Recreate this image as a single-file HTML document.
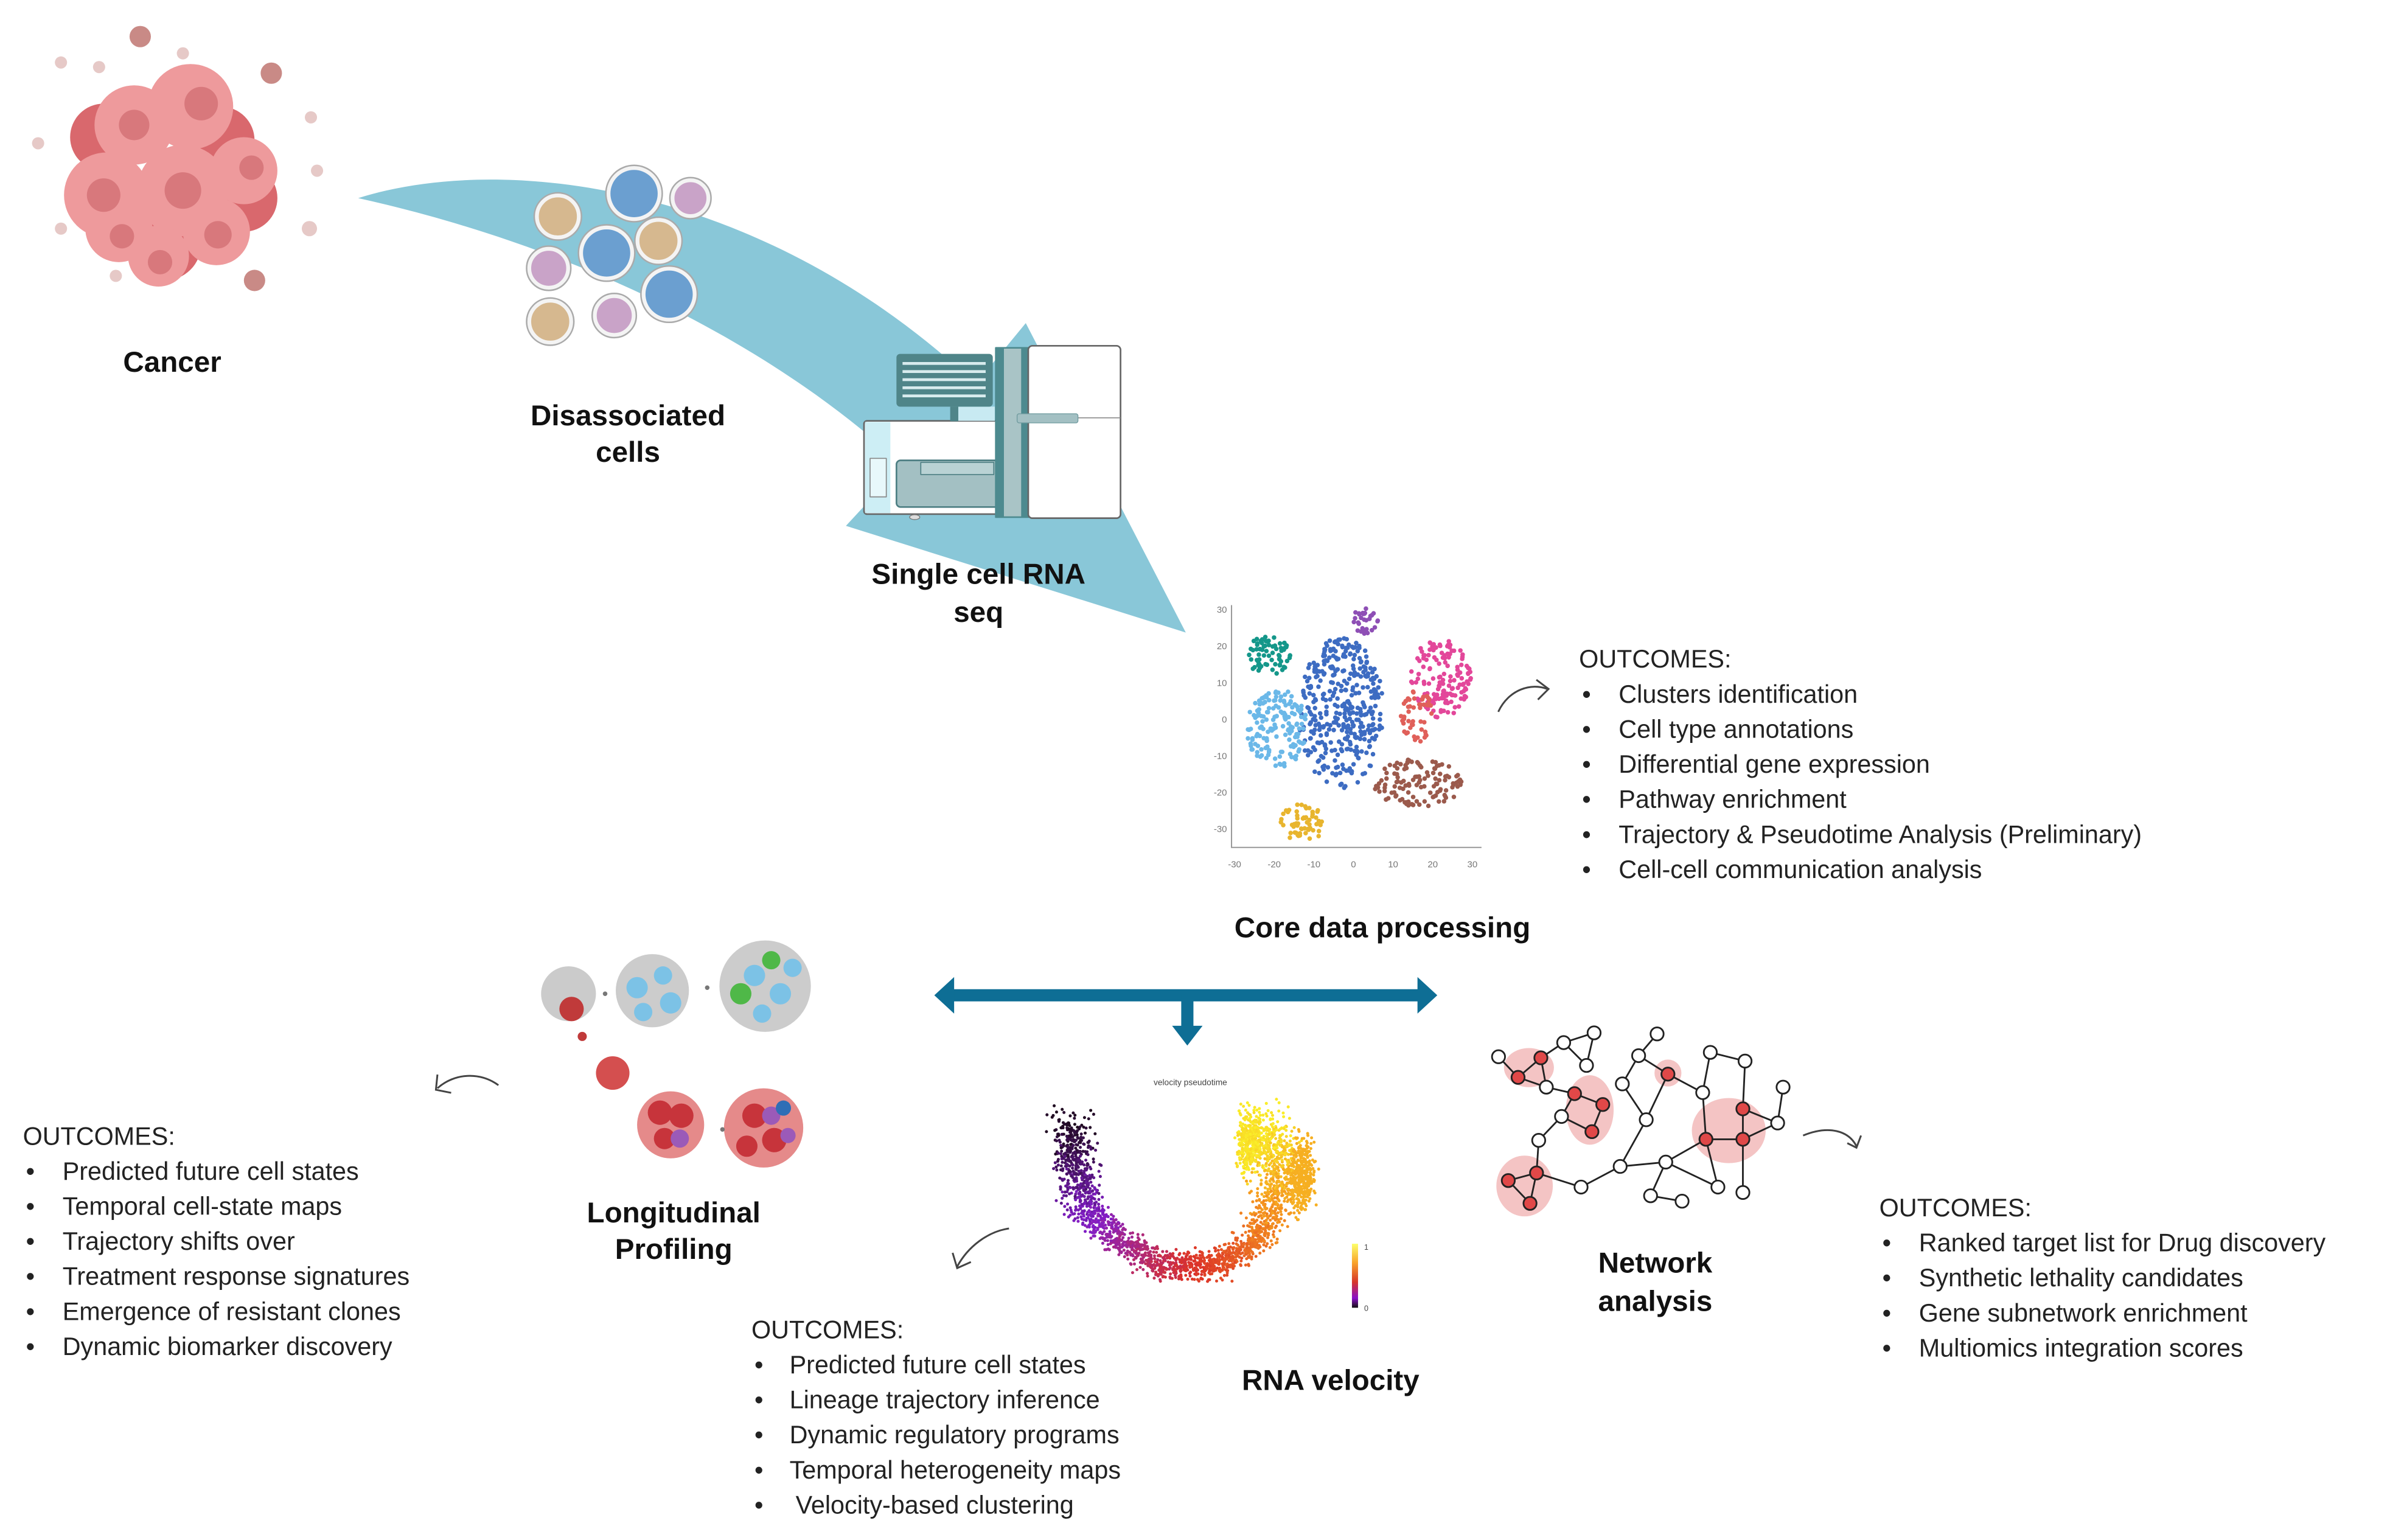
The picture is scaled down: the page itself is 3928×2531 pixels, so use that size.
<!DOCTYPE html>
<html><head><meta charset="utf-8"><style>
html,body{margin:0;padding:0;background:#fff;}
svg{display:block;}
.t{font-family:"Liberation Sans",sans-serif;fill:#1a1a1a;}
.o{font-size:16.5px;fill:#222;}
.b{font-size:19px;font-weight:bold;text-anchor:middle;fill:#111;}
</style></head><body>
<svg id="s" xmlns="http://www.w3.org/2000/svg" width="3928" height="2531" viewBox="0 0 3928 2531">
<rect width="3928" height="2531" fill="#fff"/>
<g transform="scale(2.505)">
 <path d="M235,130 C330,100 500,120 640,252 L673,212 L778,415 L555,345 L592,305 C500,220 370,160 235,130 Z" fill="#89c7d8"/>
 <g id="cancer">
  <g fill="#c98a86"><circle cx="92" cy="24" r="7"/><circle cx="178" cy="48" r="7"/><circle cx="167" cy="184" r="7"/></g>
  <g fill="#e6c9c7"><circle cx="40" cy="41" r="4"/><circle cx="65" cy="44" r="4"/><circle cx="120" cy="35" r="4"/><circle cx="25" cy="94" r="4"/><circle cx="204" cy="77" r="4"/><circle cx="208" cy="112" r="4"/><circle cx="40" cy="150" r="4"/><circle cx="203" cy="150" r="5"/><circle cx="76" cy="181" r="4"/></g>
  <g fill="#d9686d"><circle cx="68" cy="90" r="22"/><circle cx="160" cy="130" r="22"/><circle cx="108" cy="160" r="24"/><circle cx="145" cy="92" r="22"/></g>
  <g fill="#ee9a9c"><circle cx="88" cy="82" r="26"/><circle cx="125" cy="70" r="28"/><circle cx="70" cy="128" r="28"/><circle cx="120" cy="125" r="30"/><circle cx="160" cy="112" r="22"/><circle cx="78" cy="150" r="22"/><circle cx="142" cy="152" r="22"/><circle cx="104" cy="168" r="20"/></g>
  <g fill="#d8787c"><circle cx="88" cy="82" r="10"/><circle cx="132" cy="68" r="11"/><circle cx="68" cy="128" r="11"/><circle cx="120" cy="125" r="12"/><circle cx="165" cy="110" r="8"/><circle cx="80" cy="155" r="8"/><circle cx="143" cy="154" r="9"/><circle cx="105" cy="172" r="8"/></g>
 </g>
 <g stroke="#f4f4f4" stroke-width="3">
  <circle cx="366" cy="142" r="14" fill="#d6b88f"/><circle cx="416" cy="127" r="17" fill="#6b9fd0"/><circle cx="453" cy="130" r="12" fill="#c9a3c8"/>
  <circle cx="432" cy="158" r="14" fill="#d6b88f"/><circle cx="398" cy="166" r="17" fill="#6b9fd0"/><circle cx="360" cy="176" r="13" fill="#c9a3c8"/>
  <circle cx="439" cy="193" r="17" fill="#6b9fd0"/><circle cx="361" cy="211" r="14" fill="#d6b88f"/><circle cx="403" cy="207" r="13" fill="#c9a3c8"/>
 </g>
 <g fill="none" stroke="#aaa" stroke-width="1">
  <circle cx="366" cy="142" r="15.5"/><circle cx="416" cy="127" r="18.5"/><circle cx="453" cy="130" r="13.5"/>
  <circle cx="432" cy="158" r="15.5"/><circle cx="398" cy="166" r="18.5"/><circle cx="360" cy="176" r="14.5"/>
  <circle cx="439" cy="193" r="18.5"/><circle cx="361" cy="211" r="15.5"/><circle cx="403" cy="207" r="14.5"/>
 </g>
 <path d="M808,397 V556 H972" stroke="#999" stroke-width="0.8" fill="none"/>
 <g font-family="Liberation Sans" font-size="6" fill="#777" text-anchor="end">
  <text x="805" y="402">30</text><text x="805" y="426">20</text><text x="805" y="450">10</text><text x="805" y="474">0</text><text x="805" y="498">-10</text><text x="805" y="522">-20</text><text x="805" y="546">-30</text>
 </g>
 <g font-family="Liberation Sans" font-size="6" fill="#777" text-anchor="middle">
  <text x="810" y="569">-30</text><text x="836" y="569">-20</text><text x="862" y="569">-10</text><text x="888" y="569">0</text><text x="914" y="569">10</text><text x="940" y="569">20</text><text x="966" y="569">30</text>
 </g>
 <g id="tsne"></g>
 <g fill="none" stroke="#444" stroke-width="1.2">
  <path d="M983,467 C990,452 1005,448 1015,452"/><path d="M1008,446 L1016,452 L1009,459"/>
  <path d="M327,712 C315,703 298,704 287,714"/><path d="M287,705 L286,715 L296,717"/>
  <path d="M662,806 C648,808 635,818 628,831"/><path d="M625,822 L628,832 L637,828"/>
  <path d="M1183,745 C1200,738 1213,742 1218,752"/><path d="M1212,750 L1218,753 L1221,745"/>
 </g>
 <g fill="#0e6e95">
  <rect x="620" y="649" width="316" height="8"/>
  <path d="M613,653 L626,641 L626,665 Z"/><path d="M943,653 L930,641 L930,665 Z"/>
  <rect x="775" y="653" width="8" height="22"/><path d="M779,686 L769,673 L789,673 Z"/>
 </g>
 <g id="longi">
  <g fill="#c6c6c6" opacity="0.9">
   <circle cx="373" cy="652" r="18"/><circle cx="428" cy="650" r="24"/><circle cx="502" cy="647" r="30"/>
  </g>
  <g fill="#7cc2e6"><circle cx="418" cy="648" r="7"/><circle cx="435" cy="640" r="6"/><circle cx="440" cy="658" r="7"/><circle cx="422" cy="664" r="6"/>
   <circle cx="495" cy="640" r="7"/><circle cx="512" cy="652" r="7"/><circle cx="500" cy="665" r="6"/><circle cx="520" cy="635" r="6"/></g>
  <g fill="#4fb848"><circle cx="486" cy="652" r="7"/><circle cx="506" cy="630" r="6"/></g>
  <circle cx="375" cy="662" r="8" fill="#c03a3a"/><circle cx="382" cy="680" r="3" fill="#c03a3a"/>
  <circle cx="402" cy="704" r="11" fill="#d44f4f"/>
  <g fill="#e58a8a"><circle cx="440" cy="738" r="22"/><circle cx="501" cy="740" r="26"/></g>
  <g fill="#c7343b"><circle cx="433" cy="730" r="8"/><circle cx="447" cy="732" r="8"/><circle cx="436" cy="747" r="7"/><circle cx="495" cy="732" r="8"/><circle cx="508" cy="748" r="8"/><circle cx="490" cy="752" r="7"/></g>
  <g fill="#9b5ab8"><circle cx="446" cy="747" r="6"/><circle cx="506" cy="732" r="6"/><circle cx="517" cy="745" r="5"/></g>
  <circle cx="514" cy="727" r="5" fill="#2f6eb6"/>
  <g fill="#777"><circle cx="397" cy="652" r="1.5"/><circle cx="464" cy="648" r="1.5"/><circle cx="474" cy="741" r="1.5"/></g>
 </g>
 <text x="781" y="712" font-family="Liberation Sans" font-size="5.5" fill="#444" text-anchor="middle">velocity pseudotime</text>
 <g id="vel"></g>
 <defs><linearGradient id="cb" x1="0" y1="0" x2="0" y2="1"><stop offset="0" stop-color="#fcff6a"/><stop offset="0.3" stop-color="#f9a22a"/><stop offset="0.6" stop-color="#d6352a"/><stop offset="0.85" stop-color="#8a10c8"/><stop offset="1" stop-color="#111"/></linearGradient></defs>
 <rect x="887" y="816" width="4" height="42" fill="url(#cb)"/>
 <text x="895" y="820" font-family="Liberation Sans" font-size="5" fill="#444">1</text>
 <text x="895" y="860" font-family="Liberation Sans" font-size="5" fill="#444">0</text>
 <text class="t b" x="113" y="244">Cancer</text>
 <text class="t b" x="412" y="279">Disassociated</text>
 <text class="t b" x="412" y="303">cells</text>
 <text class="t b" x="642" y="383">Single cell  RNA</text>
 <text class="t b" x="642" y="408">seq</text>
 <text class="t b" x="907" y="615">Core data processing</text>
 <text class="t b" x="442" y="802">Longitudinal</text>
 <text class="t b" x="442" y="826">Profiling</text>
 <text class="t b" x="873" y="912">RNA velocity</text>
 <text class="t b" x="1086" y="835">Network</text>
 <text class="t b" x="1086" y="860">analysis</text>
 <g class="t o">
  <text x="1036" y="438">OUTCOMES:</text>
  <text x="1038" y="461">•</text><text x="1062" y="461">Clusters identification</text>
  <text x="1038" y="484">•</text><text x="1062" y="484">Cell type annotations</text>
  <text x="1038" y="507">•</text><text x="1062" y="507">Differential gene expression</text>
  <text x="1038" y="530">•</text><text x="1062" y="530">Pathway enrichment</text>
  <text x="1038" y="553">•</text><text x="1062" y="553">Trajectory &amp; Pseudotime Analysis (Preliminary)</text>
  <text x="1038" y="576">•</text><text x="1062" y="576">Cell-cell communication analysis</text>

  <text x="15" y="751">OUTCOMES:</text>
  <text x="17" y="774">•</text><text x="41" y="774">Predicted future cell states</text>
  <text x="17" y="797">•</text><text x="41" y="797">Temporal cell-state maps</text>
  <text x="17" y="820">•</text><text x="41" y="820">Trajectory shifts over</text>
  <text x="17" y="843">•</text><text x="41" y="843">Treatment response signatures</text>
  <text x="17" y="866">•</text><text x="41" y="866">Emergence of resistant clones</text>
  <text x="17" y="889">•</text><text x="41" y="889">Dynamic biomarker discovery</text>

  <text x="493" y="878">OUTCOMES:</text>
  <text x="495" y="901">•</text><text x="518" y="901">Predicted future cell states</text>
  <text x="495" y="924">•</text><text x="518" y="924">Lineage trajectory inference</text>
  <text x="495" y="947">•</text><text x="518" y="947">Dynamic regulatory programs</text>
  <text x="495" y="970">•</text><text x="518" y="970">Temporal heterogeneity maps</text>
  <text x="495" y="993">•</text><text x="522" y="993">Velocity-based clustering</text>

  <text x="1233" y="798">OUTCOMES:</text>
  <text x="1235" y="821">•</text><text x="1259" y="821">Ranked target list for Drug discovery</text>
  <text x="1235" y="844">•</text><text x="1259" y="844">Synthetic lethality candidates</text>
  <text x="1235" y="867">•</text><text x="1259" y="867">Gene subnetwork enrichment</text>
  <text x="1235" y="890">•</text><text x="1259" y="890">Multiomics integration scores</text>
 </g>
</g>
<g transform="translate(1380,540) scale(0.3333)" stroke-linejoin="round">
 <rect x="120" y="455" width="670" height="460" fill="#fff" stroke="#666" stroke-width="8" rx="15"/>
 <rect x="125" y="460" width="125" height="450" fill="#cdeef5"/>
 <rect x="150" y="640" width="80" height="190" fill="#e8f8fb" stroke="#888" stroke-width="5"/>
 <rect x="545" y="385" width="40" height="72" fill="#4f8589"/>
 <rect x="585" y="385" width="180" height="70" fill="#c8eaf2"/>
 <rect x="280" y="125" width="475" height="260" rx="18" fill="#4f8589"/>
 <g fill="#d8ecee"><rect x="310" y="165" width="410" height="14"/><rect x="310" y="205" width="410" height="14"/><rect x="310" y="245" width="410" height="14"/><rect x="310" y="285" width="410" height="14"/><rect x="310" y="325" width="410" height="14"/></g>
 <rect x="280" y="650" width="550" height="230" rx="20" fill="#a3c0c3" stroke="#4d7f83" stroke-width="8"/>
 <rect x="400" y="660" width="360" height="60" fill="#b9d2d4" stroke="#4d7f83" stroke-width="5"/>
 <rect x="770" y="95" width="160" height="835" fill="#a9c4c6" stroke="#4d8a8f" stroke-width="8"/>
 <rect x="770" y="95" width="40" height="835" fill="#4d8a8f"/>
 <rect x="895" y="95" width="35" height="835" fill="#4d8a8f"/>
 <rect x="930" y="85" width="455" height="850" rx="20" fill="#fff" stroke="#666" stroke-width="8"/>
 <line x1="930" y1="440" x2="1385" y2="440" stroke="#888" stroke-width="5"/>
 <rect x="875" y="420" width="300" height="45" rx="10" fill="#a3c0c3" stroke="#6e9a9e" stroke-width="4"/>
 <ellipse cx="370" cy="930" rx="25" ry="12" fill="#ddd" stroke="#777" stroke-width="4"/>
</g>
<g id="net" transform="translate(2420,1660) scale(0.357)"></g>
</svg>
<script>
(function(){
var NS="http://www.w3.org/2000/svg";
function el(p,n,a){var e=document.createElementNS(NS,n);for(var k in a)e.setAttribute(k,a[k]);p.appendChild(e);return e;}
var seed=7;function r(){seed=(seed*16807)%2147483647;return seed/2147483647;}
function g(){return (r()+r()+r()-1.5)/1.5;}
function u(){var a=r()*6.2832,d=Math.sqrt(r());return [Math.cos(a)*d,Math.sin(a)*d];}
var T=document.getElementById('tsne');
var cl=[[832,430,15,13,70,'#14978a'],[895,408,9,9,30,'#8e4fb5'],[880,468,28,50,380,'#3d6cc2'],[838,478,20,26,160,'#6bb8e8'],[945,445,20,26,150,'#e3479a'],[930,470,11,17,50,'#e0605a'],[930,514,30,16,120,'#9b5a4c'],[855,540,15,13,60,'#e8b52e']];
cl.forEach(function(c){for(var i=0;i<c[4];i++){var p=u();el(T,'circle',{cx:c[0]+p[0]*c[2],cy:c[1]+p[1]*c[3],r:1.5,fill:c[5]});}});
var V=document.getElementById('vel');
var pts=[[702,738],[705,765],[712,792],[735,815],[765,832],[800,830],[825,812],[838,785],[840,760],[830,738]];
function col(t){var s=[[0,[30,10,30]],[0.25,[130,30,200]],[0.5,[220,50,40]],[0.75,[245,150,30]],[1,[250,240,40]]];for(var i=1;i<s.length;i++){if(t<=s[i][0]){var a=s[i-1],b=s[i],f=(t-a[0])/(b[0]-a[0]);return 'rgb('+[0,1,2].map(function(k){return Math.round(a[1][k]+(b[1][k]-a[1][k])*f)}).join(',')+')';}}return 'rgb(250,240,40)';}
for(var i=0;i<2200;i++){var t=r();var idx=t*(pts.length-1),j=Math.floor(idx),f=idx-j;if(j>=pts.length-1){j=pts.length-2;f=1;}
 var x=pts[j][0]+(pts[j+1][0]-pts[j][0])*f,y=pts[j][1]+(pts[j+1][1]-pts[j][1])*f;var w=(t<0.25?20:(t>0.7?22:14));
 el(V,'circle',{cx:x+g()*w,cy:y+g()*w,r:1,fill:col(t)});}
for(var i=0;i<350;i++){el(V,'circle',{cx:820+g()*12,cy:750+g()*30,r:1,fill:col(0.93+r()*0.07)});el(V,'circle',{cx:855+g()*12,cy:770+g()*35,r:1,fill:col(0.82)});}
var N=document.getElementById('net');
var P={A:[120,215],B:[420,150],C:[560,105],D:[525,255],E:[340,355],F:[410,490],G:[305,600],H:[500,815],I:[680,720],J:[765,210],K:[850,110],L:[690,340],M:[800,505],N:[1060,380],O:[1095,195],P:[1255,235],Q:[1430,355],R:[1405,520],S:[890,700],T:[1130,815],U:[820,855],V:[965,880],W:[1245,840],
r1:[315,220],r2:[210,310],r3:[470,385],r4:[600,435],r5:[550,560],r6:[900,295],r7:[1075,595],r8:[1245,595],r9:[1245,455],r10:[295,750],r11:[165,785],r12:[265,890]};
[[260,265,115,90],[540,460,110,160],[900,290,62,62],[1180,555,170,150],[240,810,130,140]].forEach(function(h){el(N,'ellipse',{cx:h[0],cy:h[1],rx:h[2],ry:h[3],fill:'#f4c4c4'});});
var E="A-r2 r2-r1 r1-B B-C C-D B-D r1-E r2-E E-r3 r3-r4 r4-r5 r5-F F-r3 F-G G-r10 r10-r11 r11-r12 r12-r10 r10-H H-I I-M M-L L-J J-K J-r6 r6-M r6-N N-O O-P P-r9 N-r7 r7-r8 r8-r9 r9-R R-Q R-r8 r8-W r7-T I-S S-r7 S-T S-U U-V".split(' ');
E.forEach(function(e){var a=P[e.split('-')[0]],b=P[e.split('-')[1]];el(N,'line',{x1:a[0],y1:a[1],x2:b[0],y2:b[1],stroke:'#222','stroke-width':8});});
for(var k in P){el(N,'circle',{cx:P[k][0],cy:P[k][1],r:30,fill:k[0]=='r'?'#e04848':'#fff',stroke:'#222','stroke-width':8});}
})();
</script>
</body></html>
